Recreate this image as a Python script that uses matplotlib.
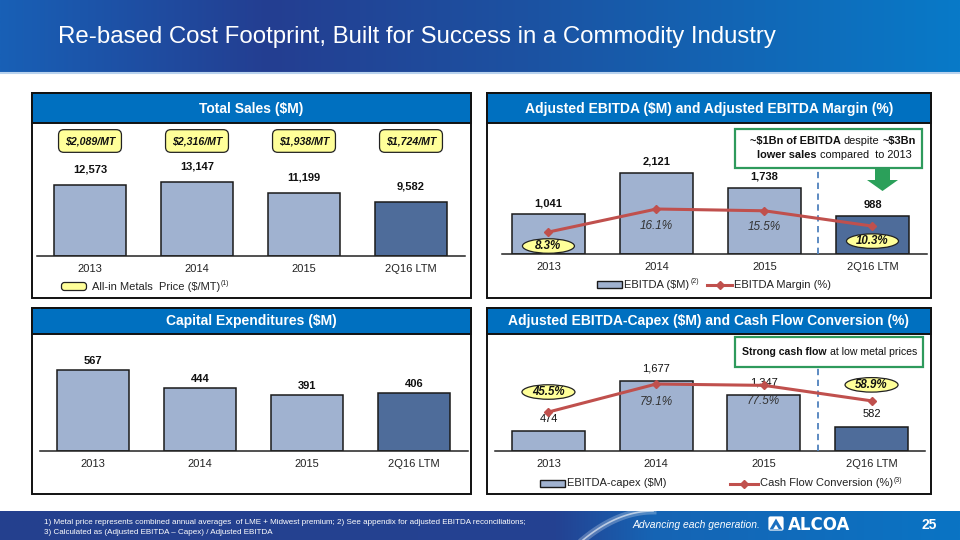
import numpy as np
import matplotlib
matplotlib.use('Agg')
import matplotlib.pyplot as plt
from matplotlib.patches import Rectangle, FancyBboxPatch, Ellipse, Polygon
from matplotlib.lines import Line2D

plt.rcParams['font.family'] = ['Liberation Sans', 'DejaVu Sans']
plt.rcParams['text.parse_math'] = False

W, H = 960, 540

# ---------------- data ----------------
periods = ['2013', '2014', '2015', '2Q16 LTM']
total_sales = [12573, 13147, 11199, 9582]
metal_price_labels = ['$2,089/MT', '$2,316/MT', '$1,938/MT', '$1,724/MT']
ebitda = [1041, 2121, 1738, 988]
ebitda_margin = [8.3, 16.1, 15.5, 10.3]
capex = [567, 444, 391, 406]
ebitda_less_capex = [474, 1677, 1347, 582]
cash_conversion = [45.5, 79.1, 77.5, 58.9]

# ---------------- styles ----------------
HDR_BLUE = '#0070C0'
BAR_LIGHT = '#A0B2D0'
BAR_DARK = '#4E6C9A'
LINE_RED = '#C0504D'
YELLOW = '#FFFF99'
GREEN = '#2E9A5C'
DASH_BLUE = '#4F81BD'
bar_colors = [BAR_LIGHT, BAR_LIGHT, BAR_LIGHT, BAR_DARK]

fig = plt.figure(figsize=(9.6, 5.4), dpi=100)
fig.patch.set_facecolor('white')


def px_axes(z):
    a = fig.add_axes([0, 0, 1, 1], zorder=z)
    a.axis('off')
    return a


bg = px_axes(0)
ov = px_axes(20)


def grad_img(stops, n=600):
    xs = np.linspace(0, 1, n)
    pos = [s[0] for s in stops]
    img = np.zeros((2, n, 3))
    for c in range(3):
        img[:, :, c] = np.interp(xs, pos, [s[1][c] / 255 for s in stops])
    return img


# title banner
bg.imshow(grad_img([(0, (24, 96, 182)), (0.28, (36, 62, 145)), (0.55, (28, 82, 162)),
                    (1.0, (8, 122, 200))]), extent=(0, W, 72, 0), aspect='auto', zorder=1)
bg.plot([0, W], [73, 73], color='#b8d2ee', lw=1.5, zorder=2)
bg.text(58, 37, 'Re-based Cost Footprint, Built for Success in a Commodity Industry',
        color='white', fontsize=17.3, va='center', ha='left', zorder=3)

# footer band
bg.imshow(grad_img([(0, (36, 64, 142)), (0.58, (36, 66, 146)), (0.68, (22, 100, 180)),
                    (1.0, (10, 116, 196))]), extent=(0, W, 540, 511), aspect='auto', zorder=1)
tt = np.linspace(0, 1, 50)
sx = 583 + 70 * tt
sy = 540 - 29 * (1 - (1 - tt) ** 2)
bg.plot(sx, sy, color='white', alpha=0.25, lw=5, zorder=2)
bg.plot(sx, sy, color='white', alpha=0.6, lw=1.2, zorder=2)
bg.text(44, 522, '1) Metal price represents combined annual averages  of LME + Midwest premium; 2) See appendix for adjusted EBITDA reconciliations;',
        color='white', fontsize=5.75, va='center', zorder=3)
bg.text(44, 532, '3) Calculated as (Adjusted EBITDA \u2013 Capex) / Adjusted EBITDA',
        color='white', fontsize=5.75, va='center', zorder=3)
bg.text(632, 525, 'Advancing each generation.', color='white', fontsize=7.4,
        style='italic', va='center', zorder=3)
bg.add_patch(FancyBboxPatch((769, 517), 14, 13, boxstyle='round,pad=0.6,rounding_size=2',
                            fc='white', ec='none', zorder=3))
bg.add_patch(Polygon([(776, 518.5), (769.5, 529.5), (782.5, 529.5)], fc='#1b6fc0', ec='none', zorder=4))
bg.add_patch(Polygon([(776, 524.5), (773.3, 529), (778.7, 529)], fc='white', ec='none', zorder=5))
bg.text(788, 525, 'ALCOA', color='white', fontsize=12, fontweight='bold',
        family='DejaVu Sans', va='center', zorder=3)
bg.text(929, 525, '25', color='white', fontsize=10, fontweight='bold', ha='center',
        va='center', zorder=3)


# panels
def panel(x0, y0, x1, y1, hdr_bottom, title):
    bg.add_patch(Rectangle((x0, y0), x1 - x0, y1 - y0, fc='white', ec='#111111', lw=1.4, zorder=2))
    bg.add_patch(Rectangle((x0, y0), x1 - x0, hdr_bottom - y0, fc=HDR_BLUE, ec='#111111', lw=1.4, zorder=3))
    bg.text((x0 + x1) / 2, (y0 + hdr_bottom) / 2 + 0.5, title, color='white', fontsize=10,
            fontweight='bold', ha='center', va='center', zorder=4)


panel(32, 93, 471, 298, 123, 'Total Sales ($M)')
panel(487, 93, 931, 298, 123, 'Adjusted EBITDA ($M) and Adjusted EBITDA Margin (%)')
panel(32, 308, 471, 494, 334, 'Capital Expenditures ($M)')
panel(487, 308, 931, 494, 334, 'Adjusted EBITDA-Capex ($M) and Cash Flow Conversion (%)')

for a in (bg, ov):
    a.set_xlim(0, W)
    a.set_ylim(H, 0)


def chart_axes(x0, x1, y_top, y_base, xlim, units_per_px):
    a = fig.add_axes([x0 / W, 1 - y_base / H, (x1 - x0) / W, (y_base - y_top) / H], zorder=10)
    a.patch.set_alpha(0)
    a.set_xlim(*xlim)
    a.set_ylim(0, (y_base - y_top) * units_per_px)
    for s in ('top', 'left', 'right'):
        a.spines[s].set_visible(False)
    a.spines['bottom'].set_color('#222222')
    a.spines['bottom'].set_linewidth(1.1)
    a.set_yticks([])
    a.set_xticks(range(len(periods)))
    a.set_xticklabels(periods, fontsize=8, color='#222222')
    a.tick_params(axis='x', length=0, pad=6)
    return a


def to_px(a, x, y):
    d = a.transData.transform((x, y))
    return d[0], H - d[1]


def bars(a, vals, off, bold=True):
    a.bar(range(len(vals)), vals, width=0.68, color=bar_colors, edgecolor='#1a1a1a', lw=1.1, zorder=2)
    for i, v in enumerate(vals):
        a.annotate(f'{v:,}', xy=(i, v), xytext=(0, off), textcoords='offset pixels',
                   ha='center', va='center', fontsize=8,
                   fontweight='bold' if bold else 'normal', color='#111111', zorder=5)


def twin_line(a, vals, lo, px_per_unit, height_px):
    a2 = a.twinx()
    a2.set_ylim(lo, lo + height_px / px_per_unit)
    a2.axis('off')
    a2.plot(range(len(vals)), vals, color=LINE_RED, lw=2.2, marker='D', ms=4.5,
            mec=LINE_RED, mfc=LINE_RED, zorder=6)
    return a2


def pct_labels(a2, vals, offs, ellipse_idx, ell_w):
    for i, v in enumerate(vals):
        px, py = to_px(a2, i, v)
        py = py - offs[i]
        if i in ellipse_idx:
            ov.add_patch(Ellipse((px, py), ell_w, 14.5, fc=YELLOW, ec='#222222', lw=0.9, zorder=5))
            ov.text(px, py, f'{v:.1f}%', ha='center', va='center', fontsize=8.3,
                    fontweight='bold', style='italic', color='#111111', zorder=6)
        else:
            ov.text(px, py, f'{v:.1f}%', ha='center', va='center', fontsize=8.5,
                    style='italic', color='#333333', zorder=6)


def rich(a, x, y, pieces, size=8):
    t = None
    for s, bold in pieces:
        w = 'bold' if bold else 'normal'
        if t is None:
            t = a.text(x, y, s, fontsize=size, fontweight=w, va='center', ha='left',
                       color='#111111', zorder=8)
        else:
            t = a.annotate(s, xy=(1, 0.5), xycoords=t, xytext=(2.2, 0), textcoords='offset points',
                           fontsize=size, fontweight=w, va='center', ha='left',
                           color='#111111', zorder=8)
    return t


# ---- Total sales ----
ax1 = chart_axes(36.5, 464.5, 130, 256, (-0.5, 3.5), 12573 / 71)
bars(ax1, total_sales, 15)
for i, lab in enumerate(metal_price_labels):
    px, _ = to_px(ax1, i, 0)
    ov.text(px, 141, lab, ha='center', va='center', fontsize=7.6, fontweight='bold',
            style='italic', color='#111111', zorder=6,
            bbox=dict(boxstyle='round,pad=0.6,rounding_size=0.5', fc=YELLOW, ec='#222222', lw=0.9))
ov.add_patch(FancyBboxPatch((62, 283), 24, 7, boxstyle='round,pad=0.5,rounding_size=3',
                            fc=YELLOW, ec='#222222', lw=0.9, zorder=5))
t = ov.text(92, 286.5, 'All-in Metals  Price ($/MT)', fontsize=8, color='#222222', va='center', zorder=6)
ov.annotate('(1)', xy=(1, 1), xycoords=t, xytext=(0.5, 1), textcoords='offset points',
            fontsize=5, va='top', ha='left', color='#222222', zorder=6)

# ---- Adjusted EBITDA ----
ax2 = chart_axes(502, 926.5, 130, 254, (-0.43, 3.5), 2121 / 81)
bars(ax2, ebitda, 11)
ax2.axvline(2.5, ymin=0, ymax=(254 - 169) / 124, color=DASH_BLUE, lw=1.3, ls=(0, (3.5, 2.5)), zorder=3)
ax2b = twin_line(ax2, ebitda_margin, 0.85, 2.95, 124)
pct_labels(ax2b, ebitda_margin, [-14, -17, -16, -15], (0, 3), 52)
ov.add_patch(Rectangle((735, 129), 187, 39, fc='white', ec=GREEN, lw=1.6, zorder=7))
rich(ov, 750, 141, [('~$1Bn of EBITDA', True), ('despite', False), ('~$3Bn', True)], 7.9)
rich(ov, 757, 155, [('lower sales', True), ('compared  to 2013', False)], 7.9)
ov.add_patch(Polygon([(875, 169), (890, 169), (890, 180), (898, 180), (882.5, 191), (867, 180), (875, 180)],
                     fc='#2BA05A', ec='none', zorder=7))
ov.add_patch(Rectangle((597, 281), 25, 6.5, fc=BAR_LIGHT, ec='#1a1a1a', lw=1, zorder=5))
t = ov.text(624.5, 284.5, 'EBITDA ($M)', fontsize=8, color='#222222', va='center', zorder=6)
ov.annotate('(2)', xy=(1, 1), xycoords=t, xytext=(0.5, 1), textcoords='offset points',
            fontsize=5, va='top', ha='left', color='#222222', zorder=6)
ov.add_line(Line2D([707, 732], [284.5, 284.5], color=LINE_RED, lw=2.2, zorder=6))
ov.add_line(Line2D([719.5], [284.5], marker='D', ms=4.5, color=LINE_RED, zorder=6))
ov.text(734, 284.5, 'EBITDA Margin (%)', fontsize=8, color='#222222', va='center', zorder=6)

# ---- Capex ----
ax3 = chart_axes(39.5, 467.5, 340, 451, (-0.5, 3.5), 567 / 81)
bars(ax3, capex, 9)

# ---- EBITDA - capex ----
ax4 = chart_axes(494.6, 925.4, 340, 451, (-0.5, 3.5), 1677 / 70)
bars(ax4, ebitda_less_capex, 12.5, bold=False)
ax4.axvline(2.5, ymin=0, ymax=(451 - 368) / 111, color=DASH_BLUE, lw=1.3, ls=(0, (3.5, 2.5)), zorder=3)
ax4b = twin_line(ax4, cash_conversion, -1.3, 0.833, 111)
pct_labels(ax4b, cash_conversion, [20, -18, -16, 16], (0, 3), 53)
ov.add_patch(Rectangle((735, 337), 188, 30, fc='white', ec=GREEN, lw=1.6, zorder=7))
rich(ov, 742, 352, [('Strong cash flow', True), ('at low metal prices', False)], 7.6)
ov.add_patch(Rectangle((540, 480), 25, 6.5, fc=BAR_LIGHT, ec='#1a1a1a', lw=1, zorder=5))
ov.text(567, 483.5, 'EBITDA-capex ($M)', fontsize=8, color='#222222', va='center', zorder=6)
ov.add_line(Line2D([730, 758], [483.5, 483.5], color=LINE_RED, lw=2.2, zorder=6))
ov.add_line(Line2D([744], [483.5], marker='D', ms=4.5, color=LINE_RED, zorder=6))
t = ov.text(760, 483.5, 'Cash Flow Conversion (%)', fontsize=8, color='#222222', va='center', zorder=6)
ov.annotate('(3)', xy=(1, 1), xycoords=t, xytext=(0.5, 1), textcoords='offset points',
            fontsize=5, va='top', ha='left', color='#222222', zorder=6)

for a in (bg, ov):
    a.set_xlim(0, W)
    a.set_ylim(H, 0)

fig.savefig('out.png', dpi=100, facecolor='white')
